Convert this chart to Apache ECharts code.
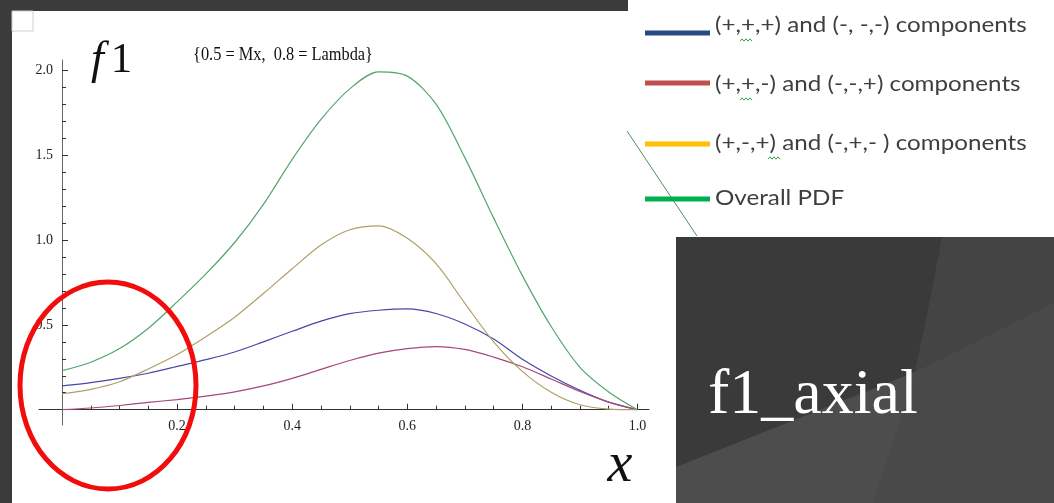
<!DOCTYPE html>
<html>
<head>
<meta charset="utf-8">
<script src="https://cdn.jsdelivr.net/npm/echarts@6.0.0/dist/echarts.min.js"></script>
<style>
  html, body { margin: 0; padding: 0; background: #fff; }
  #main { width: 1054px; height: 503px; }
</style>
</head>
<body>
<div id="main"></div>
<script>
// x samples
var xs = [0, 0.05, 0.1, 0.15, 0.2, 0.25, 0.3, 0.35, 0.4, 0.45, 0.5,
          0.55, 0.6, 0.65, 0.7, 0.75, 0.8, 0.85, 0.9, 0.95, 1.0];
// (+,+,+) and (-,-,-)
var compPPP = [0.14, 0.16, 0.185, 0.215, 0.255, 0.295, 0.34, 0.40, 0.462, 0.522, 0.566,
               0.586, 0.594, 0.567, 0.505, 0.416, 0.297, 0.199, 0.115, 0.045, 0];
// (+,+,-) and (-,-,+)
var compPPM = [0, 0.01, 0.025, 0.043, 0.06, 0.08, 0.105, 0.14, 0.185, 0.238, 0.29,
               0.333, 0.36, 0.372, 0.355, 0.31, 0.253, 0.181, 0.108, 0.045, 0];
// (+,-,+) and (-,+,-)
var compPMP = [0.094, 0.12, 0.165, 0.24, 0.325, 0.43, 0.545, 0.685, 0.83, 0.97, 1.06,
               1.083, 1.01, 0.86, 0.627, 0.40, 0.226, 0.103, 0.029, 0.004, 0];
// overall pdf
var overallPdf = [0.23, 0.28, 0.36, 0.48, 0.635, 0.80, 0.985, 1.21, 1.475, 1.71, 1.89,
                  1.99, 1.965, 1.80, 1.485, 1.13, 0.79, 0.49, 0.25, 0.105, 0];

var xMajor = [0.2, 0.4, 0.6, 0.8, 1.0];
var xMinor = [0.05, 0.1, 0.15, 0.25, 0.3, 0.35, 0.45, 0.5, 0.55, 0.65, 0.7, 0.75, 0.85, 0.9, 0.95];
var yMajor = [0.5, 1.0, 1.5, 2.0];
var yMinor = [0.1, 0.2, 0.3, 0.4, 0.6, 0.7, 0.8, 0.9, 1.1, 1.2, 1.3, 1.4, 1.6, 1.7, 1.8, 1.9];

var legendNames = ['(+,+,+) and (-, -,-) components', '(+,+,-) and (-,-,+) components',
                   '(+,-,+) and (-,+,- ) components', 'Overall PDF'];

function pairs(arr) {
    return xs.map(function (x, i) { return [x, arr[i]]; });
}

var myChart = echarts.init(document.getElementById('main'));

var serif = '"Liberation Serif", "DejaVu Serif", serif';
var axisLbl = { fontFamily: serif, fontSize: 14, color: '#222' };
var smoothness = 0.3;

var legendRows = [
    { y: 33, ty: 25, color: '#254a85' },
    { y: 83, ty: 84, color: '#c0504d' },
    { y: 144, ty: 143, color: '#ffc000' },
    { y: 199, ty: 198, color: '#00b050' }
];
var legendEls = [];
legendRows.forEach(function (r, i) {
    legendEls.push({
        type: 'rect', z: 50,
        shape: { x: 645, y: r.y - 2.5, width: 65, height: 5 },
        style: { fill: r.color }
    });
    legendEls.push({
        type: 'text', z: 50, x: 715, y: r.ty, scaleX: 1.1,
        style: {
            text: legendNames[i], fill: '#3f3f3f', font: '22px Lato, "Open Sans", sans-serif',
            verticalAlign: 'middle'
        }
    });
});
// spell-check squiggles under some signs
function squiggle(x0, y0) {
    var pts = [];
    for (var k = 0; k <= 6; k++) pts.push([x0 + k * 2, y0 + (k % 2 ? -1.2 : 1.2)]);
    return { type: 'polyline', z: 51, shape: { points: pts }, style: { stroke: '#3a9e4e', lineWidth: 1, fill: 'none' } };
}
legendEls.push(squiggle(740, 40), squiggle(740, 99), squiggle(768, 158));

var option = {
    animation: false,
    backgroundColor: '#fff',
    grid: { left: 39, top: 60, width: 610, height: 365, containLabel: false },
    xAxis: [{
        type: 'value', min: -0.04, max: 1.02, position: 'bottom',
        axisLine: { onZero: true, lineStyle: { color: '#333', width: 1 } },
        axisTick: { show: true, inside: true, length: 6, customValues: xMajor, lineStyle: { color: '#333' } },
        axisLabel: Object.assign({ customValues: xMajor, margin: -6,
            formatter: function (v) { return v.toFixed(1); } }, axisLbl),
        splitLine: { show: false }
    }, {
        type: 'value', min: -0.04, max: 1.02, position: 'bottom',
        axisLine: { show: false, onZero: true, onZeroAxisIndex: 0 },
        axisTick: { show: true, inside: true, length: 4, customValues: xMinor, lineStyle: { color: '#333' } },
        axisLabel: { show: false },
        splitLine: { show: false }
    }],
    yAxis: [{
        type: 'value', min: -0.09, max: 2.06, position: 'left',
        axisLine: { show: true, onZero: true, lineStyle: { color: '#666', width: 1 } },
        axisTick: { show: true, inside: true, length: 6, customValues: yMajor, lineStyle: { color: '#333' } },
        axisLabel: Object.assign({ customValues: yMajor, margin: -14,
            formatter: function (v) { return v.toFixed(1); } }, axisLbl),
        splitLine: { show: false }
    }, {
        type: 'value', min: -0.09, max: 2.06, position: 'left',
        axisLine: { show: false, onZero: true, onZeroAxisIndex: 0 },
        axisTick: { show: true, inside: true, length: 4, customValues: yMinor, lineStyle: { color: '#333' } },
        axisLabel: { show: false },
        splitLine: { show: false }
    }],
    series: [
        { name: legendNames[0], type: 'line', smooth: smoothness, showSymbol: false, data: pairs(compPPP),
          lineStyle: { color: '#4747a6', width: 1.2 } },
        { name: legendNames[1], type: 'line', smooth: smoothness, showSymbol: false, data: pairs(compPPM),
          lineStyle: { color: '#a6477e', width: 1.2 } },
        { name: legendNames[2], type: 'line', smooth: smoothness, showSymbol: false, data: pairs(compPMP),
          lineStyle: { color: '#b09e68', width: 1.2 } },
        { name: legendNames[3], type: 'line', smooth: smoothness, showSymbol: false, data: pairs(overallPdf),
          lineStyle: { color: '#52a66e', width: 1.2 } }
    ],
    graphic: [
        // slide frame
        { type: 'rect', z: 40, shape: { x: 0, y: 0, width: 12, height: 503 }, style: { fill: '#3b3b3b' } },
        { type: 'rect', z: 40, shape: { x: 0, y: 0, width: 628, height: 11 }, style: { fill: '#3b3b3b' } },
        { type: 'rect', z: 40, shape: { x: 12, y: 11, width: 21, height: 20 },
          style: { fill: 'none', stroke: '#cfcfcf', lineWidth: 1 } },
        // plot label and axis names
        { type: 'text', z: 40, x: 283, y: 55, scaleX: 0.86, originX: 0, style: {
            text: '{0.5 = Mx,  0.8 = Lambda}', fill: '#111', font: '19px ' + serif, align: 'center', verticalAlign: 'middle' } },
        { type: 'text', z: 40, x: 91, y: 61, style: {
            text: '{a|f}{b|1}', verticalAlign: 'middle',
            rich: { a: { fontFamily: serif, fontStyle: 'italic', fontSize: 46, fill: '#111' },
                    b: { fontFamily: serif, fontSize: 43, fill: '#111', padding: [0, 0, 0, 7] } } } },
        { type: 'text', z: 40, x: 620, y: 466, style: {
            text: 'x', fill: '#111', font: 'italic 56px ' + serif, align: 'center', verticalAlign: 'middle' } },
        // red marker
        { type: 'ellipse', z: 60, shape: { cx: 108, cy: 385.5, rx: 88, ry: 103.5 },
          style: { fill: 'none', stroke: '#f20d0d', lineWidth: 5 } },
        // connector line near legend
        { type: 'line', z: 45, shape: { x1: 627, y1: 131, x2: 697, y2: 236 },
          style: { stroke: '#4f8f62', lineWidth: 1 } },
        // dark title box
        { type: 'rect', z: 70, shape: { x: 676, y: 237, width: 378, height: 266 }, style: { fill: '#3a3a3a' } },
        { type: 'polygon', z: 71, shape: { points: [[942, 237], [1054, 237], [1054, 303], [915, 372], [930, 300]] },
          style: { fill: '#444444' } },
        { type: 'polygon', z: 71, shape: { points: [[676, 467], [915, 372], [1054, 303], [1054, 503], [676, 503]] },
          style: { fill: '#4d4d4d' } },
        { type: 'polygon', z: 72, shape: { points: [[915, 372], [1054, 303], [1054, 503], [873, 503], [900, 420]] },
          style: { fill: '#494949' } },
        { type: 'text', z: 80, x: 708, y: 364, style: {
            text: 'f1_axial', fill: '#ffffff', font: '64px ' + serif, verticalAlign: 'top' } }
    ].concat(legendEls)
};

option && myChart.setOption(option);
</script>
</body>
</html>
